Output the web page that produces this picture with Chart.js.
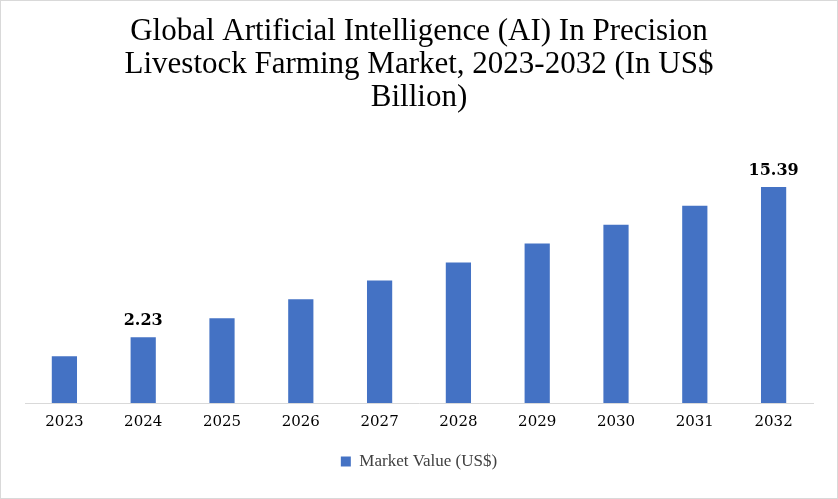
<!DOCTYPE html>
<html><head><meta charset="utf-8">
<script src="https://cdn.jsdelivr.net/npm/chart.js@4"></script>
<style>
html,body{margin:0;padding:0;background:#fff;}
#wrap{position:absolute;left:0;top:0;width:836px;height:497px;border:1px solid #d9d9d9;}
</style></head><body>
<div id="wrap"><canvas id="c" width="836" height="497"></canvas></div>
<script>
const categories = ["2023","2024","2025","2026","2027","2028","2029","2030","2031","2032"];
const marketValues = [0.58, 2.23, 3.89, 5.55, 7.20, 8.77, 10.43, 12.08, 13.74, 15.39];
const labelledYears = ["2024","2032"];
const seriesName = "Market Value (US$)";
const titleLines = ["Global Artificial Intelligence (AI) In Precision","Livestock Farming Market, 2023-2032 (In US$","Billion)"];
const axisMin = -3.52, axisMax = 19.8;

const valueLabels = {
  id:'valueLabels',
  afterDatasetsDraw(chart){
    const ctx = chart.ctx, meta = chart.getDatasetMeta(0);
    ctx.save();
    ctx.font = 'bold 16px "DejaVu Serif", serif';
    ctx.fillStyle = '#000'; ctx.textAlign='center'; ctx.textBaseline='bottom';
    meta.data.forEach((bar,i)=>{
      if(labelledYears.includes(categories[i])) ctx.fillText(marketValues[i].toFixed(2), bar.x, bar.y-8);
    });
    ctx.restore();
  }
};

new Chart(document.getElementById('c'), {
  type:'bar',
  data:{labels:categories, datasets:[{label:seriesName, data:marketValues, base:axisMin, backgroundColor:'#4472c4', barPercentage:0.32, categoryPercentage:1}]},
  options:{
    responsive:false, animation:false,
    layout:{padding:{left:24,right:24,top:10,bottom:18}},
    plugins:{
      title:{display:true, text:titleLines, color:'#000', font:{family:'"Liberation Serif", serif', size:31, weight:'normal', lineHeight:1.07}, padding:{top:4,bottom:22}},
      legend:{position:'bottom', labels:{boxWidth:10, boxHeight:10, color:'#404040', font:{family:'"Liberation Serif", serif', size:17}, padding:12}},
      tooltip:{enabled:false}
    },
    scales:{
      x:{grid:{display:false, drawTicks:false}, border:{color:'#d9d9d9'}, ticks:{color:'#000', font:{family:'"DejaVu Serif", serif', size:15}, padding:10}},
      y:{display:false, min:axisMin, max:axisMax}
    }
  },
  plugins:[valueLabels]
});
</script></body></html>
